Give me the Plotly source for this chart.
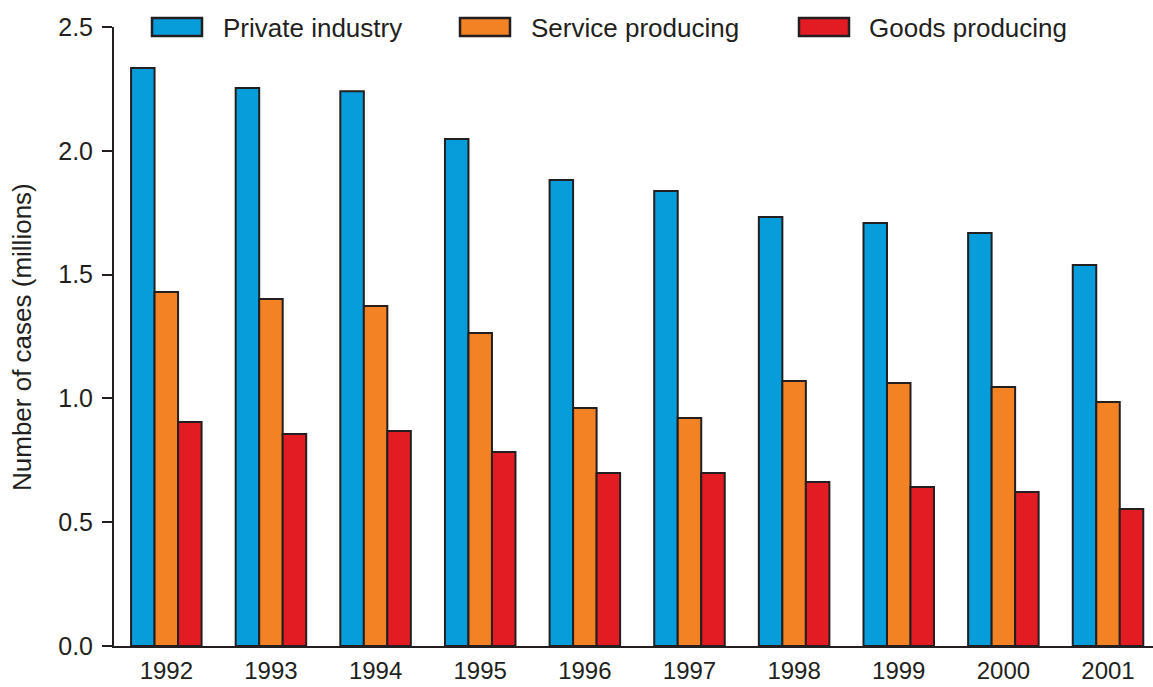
import plotly.graph_objects as go

years = ["1992", "1993", "1994", "1995", "1996", "1997", "1998", "1999", "2000", "2001"]
private_industry = [2.334, 2.254, 2.241, 2.048, 1.882, 1.838, 1.733, 1.708, 1.668, 1.539]
service_producing = [1.430, 1.401, 1.373, 1.264, 0.961, 0.921, 1.070, 1.062, 1.046, 0.985]
goods_producing = [0.905, 0.856, 0.868, 0.784, 0.699, 0.699, 0.662, 0.642, 0.622, 0.553]

series_names = ["Private industry", "Service producing", "Goods producing"]
colors = ["#069dda", "#f28223", "#e31b23"]
outline = "#231f20"
font_family = "Liberation Sans, Arial, Helvetica, sans-serif"

fig = go.Figure()
for name, vals, col in zip(series_names, [private_industry, service_producing, goods_producing], colors):
    fig.add_trace(go.Bar(
        x=years, y=vals, name=name,
        marker=dict(color=col, line=dict(color=outline, width=2)),
        showlegend=False,
    ))

W, H = 1153, 687
ml, mr, mt, mb = 114, 0, 27, 41
pw, ph = W - ml - mr, H - mt - mb


def px_x(x):
    return (x - ml) / pw


def px_y(y):
    return (H - mb - y) / ph


# manual legend (wide swatches as in reference)
legend_items = [(152, 221), (460, 529), (799, 867)]
shapes = []
annotations = []
for (sx, tx), name, col in zip(legend_items, series_names, colors):
    shapes.append(dict(type="rect", xref="paper", yref="paper",
                       x0=px_x(sx), x1=px_x(sx + 50), y0=px_y(36), y1=px_y(18),
                       fillcolor=col, line=dict(color=outline, width=2.5)))
    annotations.append(dict(xref="paper", yref="paper",
                            x=px_x(tx), y=px_y(27.5),
                            xanchor="left", yanchor="middle", showarrow=False,
                            text=name, font=dict(size=26, color=outline, family=font_family)))

annotations.append(dict(xref="paper", yref="paper", x=px_x(22), y=px_y(337),
                        xanchor="center", yanchor="middle", showarrow=False, textangle=-90,
                        text="Number of cases (millions)",
                        font=dict(size=26, color=outline, family=font_family)))

fig.update_layout(
    width=W, height=H,
    margin=dict(l=ml, r=mr, t=mt, b=mb, pad=0, autoexpand=False),
    paper_bgcolor="white", plot_bgcolor="white",
    barmode="group", bargap=0.326, bargroupgap=0,
    font=dict(family=font_family, size=25, color=outline),
    shapes=shapes, annotations=annotations,
    xaxis=dict(
        range=[-0.5, 9.43], showgrid=False, showline=True, linecolor=outline, linewidth=2,
        ticks="", tickfont=dict(size=24, color=outline), zeroline=False,
        ticklabelstandoff=2, automargin=False,
    ),
    yaxis=dict(
        range=[0, 2.5], tickvals=[0, 0.5, 1.0, 1.5, 2.0, 2.5], tickformat=".1f",
        showgrid=False, zeroline=False, showline=True, linecolor=outline, linewidth=2,
        ticks="outside", ticklen=10, tickwidth=2, tickcolor=outline,
        tickfont=dict(size=25, color=outline), ticklabelstandoff=4, automargin=False,
    ),
)

fig.write_html(
    "out.html",
    config={"displayModeBar": False},
    post_script="document.body.style.margin='0';document.body.style.overflow='hidden';",
)
